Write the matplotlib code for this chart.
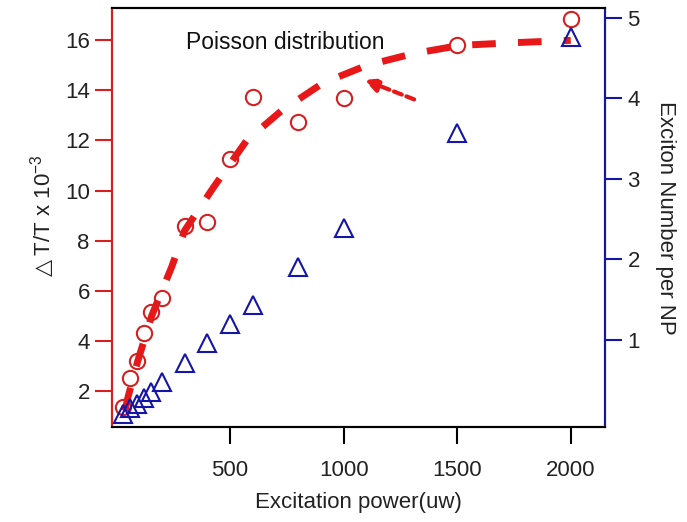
import matplotlib
matplotlib.use("Agg")
import matplotlib.pyplot as plt

plt.rcParams['font.family'] = ['Liberation Sans', 'DejaVu Sans']

# measured Delta T/T (x1e-3)
power = [30, 60, 90, 120, 150, 200, 300, 400, 500, 600, 800, 1000, 1500, 2000]
dtt = [1.35, 2.5, 3.17, 4.3, 5.16, 5.69, 8.57, 8.73, 11.27, 13.75, 12.73, 13.7, 15.8, 16.87]

# exciton number per NP
exc_power = [30, 60, 90, 120, 150, 200, 300, 400, 500, 600, 800, 1000, 1500, 2000]
exciton = [0.08, 0.15, 0.21, 0.28, 0.35, 0.48, 0.71, 0.96, 1.2, 1.43, 1.91, 2.39, 3.57, 4.76]

# Poisson fit curve
fit_x = [37, 51, 94, 155, 243, 300, 425, 573, 728, 910, 1102, 1306, 1513, 1733, 2000]
fit_y = [1.2, 1.76, 3.2, 5.0, 6.95, 8.4, 10.1, 12.0, 13.2, 14.3, 15.0, 15.47, 15.8, 15.9, 16.0]

RED = '#d42020'
BLUE = '#1515a8'
FS = 16

fig = plt.figure(figsize=(6.87, 5.22), dpi=100)
ax = fig.add_axes([0.163, 0.182, 0.718, 0.803])
ax2 = ax.twinx()

ax.plot(fit_x, fit_y, color='#e81818', lw=5, dashes=(3.4, 3.2), zorder=2)
ax.plot(power, dtt, 'o', ms=11, mfc='none', mec=RED, mew=1.5, zorder=3)
ax2.plot(exc_power, exciton, '^', ms=13, mfc='none', mec=BLUE, mew=1.5, zorder=3)

ax.annotate('', xy=(1080, 14.46), xytext=(1322, 13.6),
            arrowprops=dict(arrowstyle='-|>,head_length=0.8,head_width=0.4',
                            color='#e81818', lw=3, linestyle=(0, (2, 1.2))))
ax.text(742, 15.9, 'Poisson distribution', fontsize=16.5, ha='center', va='center',
        color='#111111')

ax.set_xlim(-20, 2152)
ax.set_ylim(0.55, 17.3)
ax2.set_ylim(-0.08, 5.12)

ax.set_xticks([500, 1000, 1500, 2000])
ax.set_yticks([2, 4, 6, 8, 10, 12, 14, 16])
ax2.set_yticks([1, 2, 3, 4, 5])

ax.tick_params(axis='x', direction='out', length=12, width=1.5, color='black',
               labelsize=FS, labelcolor='#222222', pad=12)
ax.tick_params(axis='y', direction='out', length=12, width=1.5, color=RED,
               labelsize=FS, labelcolor='#222222', pad=4)
ax2.tick_params(axis='y', direction='out', length=12, width=1.5, color=BLUE,
                labelsize=FS, labelcolor='#222222', pad=4)

for a in (ax, ax2):
    a.spines['top'].set_color('black')
    a.spines['bottom'].set_color('black')
    a.spines['left'].set_color(RED)
    a.spines['right'].set_color(BLUE)
    for s in a.spines.values():
        s.set_linewidth(1.5)

ax.set_xlabel('Excitation power(uw)', fontsize=FS, labelpad=8, color='#222222')
ax.set_ylabel('$\\triangle$T/T x 10$^{\\mathregular{-3}}$', fontsize=FS, labelpad=6,
              color='#222222')
ax2.set_ylabel('Exciton Number per NP', fontsize=FS, rotation=270, labelpad=26,
               color='#222222')

fig.savefig('out.png', dpi=100)
